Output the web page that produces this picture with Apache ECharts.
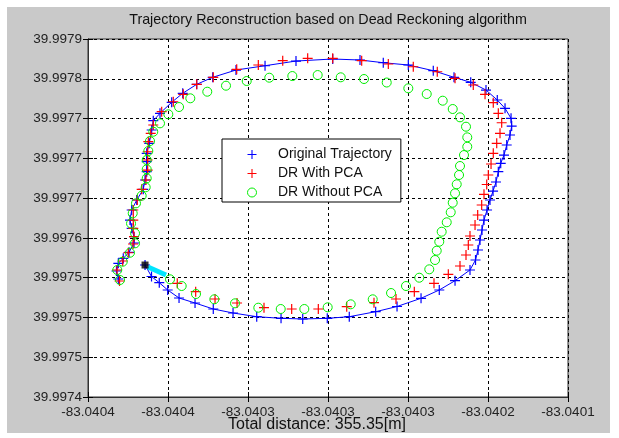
<!DOCTYPE html>
<html><head><meta charset="utf-8">
<script src="https://cdn.jsdelivr.net/npm/echarts@6/dist/echarts.min.js"></script>
<style>
html,body{margin:0;padding:0;background:#fff;width:619px;height:438px;overflow:hidden}
#c{position:absolute;left:7px;top:7px;width:603px;height:426px}
</style>
</head><body><div id="c"></div>
<script>
// Axis tick labels (axis expressed in tick-index units)
const xTickLabels = ['-83.0404','-83.0404','-83.0403','-83.0403','-83.0403','-83.0402','-83.0401'];
const yTickLabels = ['39.9974','39.9975','39.9975','39.9975','39.9976','39.9977','39.9977','39.9977','39.9978','39.9979'];
const titleText = 'Trajectory Reconstruction based on Dead Reckoning algorithm';
const xAxisTitle = 'Total distance: 355.35[m]';
const seriesNames = ['Original Trajectory','DR With PCA','DR Without PCA'];

// Original trajectory
const origX = [0.713,0.794,0.891,0.996,1.138,1.338,1.566,1.813,2.109,2.413,
2.684,2.991,3.266,3.596,3.863,4.163,4.391,4.588,4.775,4.844,
4.875,4.9,4.925,4.95,4.988,5.025,5.063,5.1,5.129,5.159,
5.2,5.234,5.275,5.296,5.288,5.213,5.116,4.975,4.784,4.575,
4.316,4.004,3.691,3.4,3.059,2.6,2.213,1.85,1.559,1.359,
1.184,1.046,0.9,0.816,0.796,0.766,0.734,0.734,0.734,0.713,
0.691,0.609,0.546,0.525,0.546,0.575,0.575,0.513,0.441,0.379,
0.356,0.379];
const origY = [3.318,3.029,2.873,2.69,2.489,2.363,2.212,2.112,2.019,1.978,
1.961,1.978,2.019,2.144,2.275,2.481,2.69,2.924,3.193,3.444,
3.695,3.947,4.198,4.449,4.701,4.952,5.178,5.405,5.664,5.875,
6.083,6.335,6.586,6.812,7.006,7.257,7.466,7.717,7.911,8.037,
8.203,8.346,8.404,8.472,8.497,8.446,8.328,8.22,8.037,7.861,
7.635,7.408,7.132,6.946,6.712,6.378,6.126,5.915,5.664,5.455,
5.221,4.952,4.701,4.449,4.241,4.03,3.871,3.637,3.487,3.361,
3.167,2.966];

// DR with PCA
const pcaX = [1.116,1.346,1.588,1.863,2.2,2.546,2.879,3.234,3.575,3.85,
4.079,4.325,4.504,4.65,4.725,4.754,4.775,4.838,4.871,4.921,
4.95,4.984,5.004,5.038,5.066,5.109,5.15,5.171,5.129,5.066,
4.963,4.816,4.588,4.366,4.066,3.754,3.421,3.059,2.746,2.434,
2.129,1.859,1.566,1.359,1.191,1.066,0.921,0.816,0.784,0.754,
0.746,0.746,0.746,0.725,0.671,0.616,0.566,0.566,0.566,0.575,
0.563,0.504,0.434,0.363,0.394];
const pcaY = [2.858,2.647,2.464,2.363,2.245,2.212,2.212,2.27,2.371,2.464,
2.647,2.858,3.084,3.293,3.57,3.821,4.047,4.324,4.575,4.827,
5.096,5.342,5.581,5.857,6.126,6.378,6.629,6.895,7.132,7.398,
7.609,7.843,8.011,8.177,8.303,8.371,8.454,8.514,8.514,8.454,
8.346,8.238,8.037,7.861,7.609,7.423,7.172,6.838,6.629,6.418,
6.166,5.958,5.706,5.455,5.221,4.952,4.701,4.449,4.241,4.03,
3.846,3.627,3.419,3.193,2.916];

// DR without PCA
const noPcaX = [1.025,1.171,1.35,1.579,1.838,2.129,2.409,2.704,2.996,3.284,
3.559,3.788,3.975,4.141,4.266,4.338,4.359,4.391,4.421,4.484,
4.534,4.559,4.588,4.609,4.638,4.65,4.7,4.741,4.741,4.725,
4.65,4.559,4.434,4.234,4.004,3.734,3.45,3.159,2.871,2.554,
2.266,1.984,1.725,1.491,1.279,1.138,1.004,0.9,0.816,0.775,
0.754,0.734,0.734,0.734,0.721,0.671,0.6,0.559,0.538,0.588,
0.588,0.525,0.434,0.366,0.4];
const noPcaY = [2.959,2.79,2.589,2.456,2.355,2.245,2.212,2.212,2.255,2.33,
2.456,2.614,2.79,2.999,3.21,3.444,3.678,3.904,4.155,4.392,
4.643,4.884,5.121,5.347,5.581,5.807,6.083,6.292,6.528,6.795,
7.031,7.24,7.449,7.617,7.76,7.906,7.994,8.037,8.094,8.069,
8.027,7.944,7.826,7.675,7.509,7.29,7.107,6.88,6.669,6.435,
6.184,5.958,5.724,5.498,5.272,5.06,4.869,4.618,4.362,4.115,
3.864,3.627,3.401,3.193,2.941];

// Start marker and initial heading segment
const startX = [0.713];
const startY = [3.318];
const headX = [0.75, 0.975];
const headY = [3.268, 3.067];

const zip = (xs, ys) => xs.map((x, i) => [x, ys[i]]);
const FONT = '"Liberation Sans", Arial, Helvetica, sans-serif';
const PLUS = 'path://M0,4.4H10V5.6H0ZM4.4,0H5.6V10H4.4Z';

const chart = echarts.init(document.getElementById('c'), null, {renderer: 'canvas'});
const axisCommon = {
  type: 'value', interval: 1,
  axisLine: {show: true, lineStyle: {color: '#303030', width: 1}},
  axisTick: {show: true, inside: true, length: 5, lineStyle: {color: '#000'}},
  splitLine: {show: false}
};
chart.setOption({
  backgroundColor: '#c9c9c9',
  animation: false,
  textStyle: {fontFamily: FONT},
  title: {
    text: titleText, left: 321, top: 6, padding: 0, textAlign: 'center',
    textStyle: {fontSize: 14.3, fontWeight: 'normal', color: '#111', fontFamily: FONT}
  },
  graphic: [{
    type: 'text', x: 310, y: 418, silent: true,
    style: {text: xAxisTitle, fontSize: 16, fontFamily: FONT, fill: '#111',
            align: 'center', verticalAlign: 'middle', textAlign: 'center', textVerticalAlign: 'middle'}
  }],
  grid: {left: 81, top: 32, width: 480, height: 358, show: true, backgroundColor: '#fff',
         borderColor: '#303030', borderWidth: 1, containLabel: false, outerBoundsMode: 'none'},
  xAxis: [
    Object.assign({}, axisCommon, {
      min: 0, max: 6, position: 'bottom',
      axisLabel: {margin: 8, fontSize: 13.5, color: '#222', fontFamily: FONT,
        formatter: v => xTickLabels[Math.round(v)]},
      splitLine: {show: true, lineStyle: {color: '#000', type: [3, 3], width: 1}}
    }),
    Object.assign({}, axisCommon, {min: 0, max: 6, position: 'top', axisLabel: {show: false}})
  ],
  yAxis: [
    Object.assign({}, axisCommon, {
      min: 0, max: 9, position: 'left',
      axisLabel: {margin: 6, fontSize: 13.5, color: '#222', fontFamily: FONT,
        formatter: v => yTickLabels[Math.round(v)]},
      splitLine: {show: true, lineStyle: {color: '#000', type: [3, 3], width: 1}}
    }),
    Object.assign({}, axisCommon, {min: 0, max: 9, position: 'right', axisLabel: {show: false}})
  ],
  legend: {
    orient: 'vertical', left: 215, top: 132,
    padding: [6, 9, 0, 25], itemGap: 0, itemWidth: 42, itemHeight: 9,
    backgroundColor: '#fff', borderColor: '#000', borderWidth: 1, borderRadius: 0,
    textStyle: {fontSize: 14, color: '#111', lineHeight: 19, fontFamily: FONT},
    data: [
      {name: seriesNames[0], icon: PLUS, itemStyle: {color: '#0000ff', borderWidth: 0}},
      {name: seriesNames[1], icon: PLUS, itemStyle: {color: '#ff0000', borderWidth: 0}},
      {name: seriesNames[2], icon: 'circle', itemStyle: {color: 'rgba(0,0,0,0)', borderColor: '#00ee00', borderWidth: 1}}
    ]
  },
  series: [
    {type: 'line', name: 'origLine', data: zip(origX, origY), showSymbol: false, symbol: 'none',
     lineStyle: {color: '#0000ff', width: 1}, z: 2, silent: true},
    {type: 'scatter', name: seriesNames[0], data: zip(origX, origY), symbol: PLUS, symbolSize: 10,
     itemStyle: {color: '#0000ff', opacity: 1}, z: 3},
    {type: 'scatter', name: seriesNames[1], data: zip(pcaX, pcaY), symbol: PLUS, symbolSize: 10,
     itemStyle: {color: '#ff0000', opacity: 1}, z: 4},
    {type: 'scatter', name: seriesNames[2], data: zip(noPcaX, noPcaY), symbol: 'circle', symbolSize: 9,
     itemStyle: {color: 'rgba(0,0,0,0)', borderColor: '#00ee00', borderWidth: 1, opacity: 1}, z: 5},
    {type: 'line', name: 'heading', data: zip(headX, headY), symbol: 'none',
     lineStyle: {color: '#00e5ff', width: 5}, z: 6, silent: true},
    {type: 'scatter', name: 'start', data: zip(startX, startY), symbol: 'rect', symbolSize: 7,
     itemStyle: {color: '#000'}, z: 7, silent: true}
  ]
});
</script>
</body></html>
